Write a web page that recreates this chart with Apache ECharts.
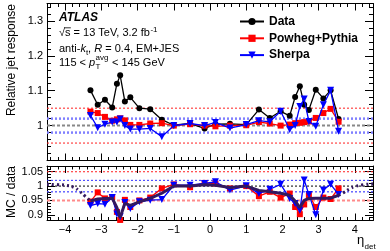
<!DOCTYPE html>
<html><head><meta charset="utf-8">
<script src="https://cdn.jsdelivr.net/npm/echarts@6/dist/echarts.min.js"></script>
<style>html,body{margin:0;padding:0;background:#fff}#c{width:390px;height:251px}</style>
</head><body><div id="c"></div>
<script>
// ---- data ----
const eta = [-3.3,-3.1,-2.9,-2.7,-2.57,-2.48,-2.35,-2.2,-1.95,-1.65,-1.33,-1.0,-0.55,-0.15,
             0.15,0.55,1.0,1.35,1.65,1.95,2.2,2.35,2.48,2.6,2.73,2.92,3.13,3.33,3.55];
const dataResp   = [1.101,1.060,1.074,1.052,1.120,1.144,1.069,1.081,1.050,1.047,1.017,1.001,1.006,0.992,
                    1.004,1.005,1.003,1.046,1.022,1.041,1.028,1.082,1.113,1.060,1.045,1.103,1.078,1.101,1.019];
const powhegResp = [1.040,1.036,1.025,1.014,1.018,1.021,1.015,1.002,1.002,1.006,1.007,1.000,1.004,1.000,
                    0.998,1.000,1.001,1.010,1.006,1.000,1.003,1.007,1.008,1.010,1.012,1.022,1.036,1.048,1.011];
const sherpaResp = [1.029,0.994,1.004,1.010,1.010,1.019,1.000,0.990,0.990,0.992,0.968,1.000,1.006,1.000,
                    1.009,0.993,1.003,1.014,1.011,1.041,0.989,1.000,1.055,1.076,1.012,0.998,1.060,1.101,0.984];
const powhegRatio = [0.946,0.978,0.957,0.962,0.910,0.882,0.952,0.927,0.950,0.960,0.992,1.006,0.996,1.011,
                     1.009,0.992,1.000,0.965,0.980,0.960,0.974,0.927,0.902,0.936,0.968,0.927,0.960,0.955,0.992];
const sherpaRatio = [0.932,0.939,0.937,0.960,0.903,0.893,0.943,0.922,0.945,0.951,0.953,1.003,1.003,1.009,
                     1.015,0.986,1.001,0.974,0.989,1.006,0.957,0.939,0.916,1.021,0.971,0.900,0.986,1.006,0.971];
const smoothRatio = [0.948,0.955,0.957,0.958,0.925,0.890,0.940,0.933,0.945,0.957,0.975,1.000,1.000,1.005,
                     1.003,0.995,1.000,0.985,0.980,0.975,0.968,0.948,0.925,0.950,0.957,0.958,0.958,0.958,0.968];
const extLeftEta    = [-4.5,-4.2,-3.95,-3.75,-3.6,-3.45,-3.3];
const extLeftRatio  = [1.006,1.005,1.002,0.995,0.982,0.965,0.948];
const extRightEta   = [3.55,3.7,3.85,4.0,4.2,4.5];
const extRightRatio = [0.968,0.978,0.990,0.998,1.004,1.008];
const xTickLabels = [-4,-3,-2,-1,0,1,2,3,4];
const upperTickLabels = [1,1.1,1.2,1.3];
const lowerTickLabels = [0.9,0.95,1,1.05];
const refLevels = [1.05,1.02,1,0.98,0.95];

// ---- layout / style ----
const FONT = '"Liberation Sans", Arial, Helvetica, sans-serif';
const XMIN=-4.5, XMAX=4.5;
const YR = [[0.9,1.35],[0.88,1.07]];
function steps(a,b,s){const o=[];const n=Math.round((b-a)/s);for(let i=0;i<=n;i++)o.push(+(a+i*s).toFixed(4));return o;}
const xMinor = steps(-4.4,4.4,0.2);
const yMinor = [steps(0.92,1.34,0.02), steps(0.89,1.06,0.01)];
const yMajor = [[1.0,1.1,1.2,1.3], [0.9,0.95,1.0,1.05]];
const yLabels = [upperTickLabels, lowerTickLabels];
const fmt = v => (v<0?'\u2212':'')+String(Math.abs(+v.toFixed(3)));

const grids = [{left:47,top:3.5,width:326,height:157},{left:47,top:166,width:326,height:54.5}];
const xAxes=[], yAxes=[];
for (let g=0; g<2; g++){
  for (const pos of ['bottom','top']){
    xAxes.push({gridIndex:g,type:'value',min:XMIN,max:XMAX,position:pos,
      axisLine:{show:true,onZero:false,lineStyle:{color:'#000',width:1}},
      axisTick:{show:true,inside:true,length:3.5,customValues:xMinor,lineStyle:{color:'#000',width:1}},
      axisLabel:{show:(g===1&&pos==='bottom'),customValues:xTickLabels,formatter:fmt,fontSize:11,color:'#000',fontFamily:FONT,margin:4},
      splitLine:{show:false}});
    xAxes.push({gridIndex:g,type:'value',min:XMIN,max:XMAX,position:pos,
      axisLine:{show:false,onZero:false},
      axisTick:{show:true,inside:true,length:7,customValues:xTickLabels,lineStyle:{color:'#000',width:1}},
      axisLabel:{show:false},splitLine:{show:false}});
  }
  for (const pos of ['left','right']){
    yAxes.push({gridIndex:g,type:'value',min:YR[g][0],max:YR[g][1],position:pos,
      axisLine:{show:true,onZero:false,lineStyle:{color:'#000',width:1}},
      axisTick:{show:true,inside:true,length:4,customValues:yMinor[g],lineStyle:{color:'#000',width:1}},
      axisLabel:{show:pos==='left',customValues:yLabels[g],formatter:fmt,fontSize:11,color:'#000',fontFamily:FONT,margin:4},
      splitLine:{show:false}});
    yAxes.push({gridIndex:g,type:'value',min:YR[g][0],max:YR[g][1],position:pos,
      axisLine:{show:false,onZero:false},
      axisTick:{show:true,inside:true,length:8,customValues:yMajor[g],lineStyle:{color:'#000',width:1}},
      axisLabel:{show:false},splitLine:{show:false}});
  }
}

const refStyles = [
  [{color:'#ff2020',width:1,type:[2,2]},{color:'#8080ff',width:2.5,type:[2,2]},{color:'#888888',width:2,type:[3,2]},{color:'#8080ff',width:2.5,type:[2,2]},{color:'#ff2020',width:1,type:[2,2]}],
  [{color:'#ff2020',width:1,type:[2,2]},{color:'#3030ff',width:1,type:[2,2]},{color:'#000000',width:1,type:[2,2]},{color:'#5050ff',width:1.3,type:[2,2]},{color:'#ff8a8a',width:2,type:[3,2]}]
];
const series=[];
for (let g=0; g<2; g++){
  refLevels.forEach((v,i)=>{
    series.push({type:'line',xAxisIndex:g*4,yAxisIndex:g*4,data:[[XMIN,v],[XMAX,v]],symbol:'none',silent:true,
      lineStyle:refStyles[g][i],z:1,animation:false});
  });
}
const pts = arr => eta.map((e,i)=>[e,arr[i]]);
series.push({name:'Data',type:'line',xAxisIndex:0,yAxisIndex:0,data:pts(dataResp),symbol:'circle',symbolSize:6,
  itemStyle:{color:'#000'},lineStyle:{color:'#000',width:1.3},z:3});
series.push({name:'Powheg+Pythia',type:'line',xAxisIndex:0,yAxisIndex:0,data:pts(powhegResp),symbol:'rect',symbolSize:6,
  itemStyle:{color:'#ff0000'},lineStyle:{color:'#ff0000',width:1.3},z:4});
series.push({name:'Sherpa',type:'line',xAxisIndex:0,yAxisIndex:0,data:pts(sherpaResp),symbol:'triangle',symbolRotate:180,symbolSize:7,
  itemStyle:{color:'#0000ff'},lineStyle:{color:'#0000ff',width:1.3},z:5});
series.push({type:'line',xAxisIndex:4,yAxisIndex:4,data:pts(powhegRatio),symbol:'rect',symbolSize:6,
  itemStyle:{color:'#ff0000'},lineStyle:{color:'#ff0000',width:1.3},z:4});
series.push({type:'line',xAxisIndex:4,yAxisIndex:4,data:pts(sherpaRatio),symbol:'triangle',symbolRotate:180,symbolSize:7,
  itemStyle:{color:'#0000ff'},lineStyle:{color:'#0000ff',width:1.3},z:5});
series.push({type:'line',xAxisIndex:4,yAxisIndex:4,data:pts(smoothRatio),symbol:'none',
  lineStyle:{color:'#33195f',width:3},z:6});
series.push({type:'line',xAxisIndex:4,yAxisIndex:4,data:extLeftEta.map((e,i)=>[e,extLeftRatio[i]]),symbol:'none',smooth:true,
  lineStyle:{color:'#33195f',width:3,type:[2,3]},z:6});
series.push({type:'line',xAxisIndex:4,yAxisIndex:4,data:extRightEta.map((e,i)=>[e,extRightRatio[i]]),symbol:'none',smooth:true,
  lineStyle:{color:'#33195f',width:3,type:[2,3]},z:6});

// ---- text annotations ----
const cv=document.createElement('canvas').getContext('2d');
function tw(t,f){cv.font=f;return cv.measureText(t).width;}
const F11='11px '+FONT, F11i='italic 11px '+FONT, F8='8px '+FONT;
const G=[];
function txt(x,y,t,font,extra){G.push(Object.assign({type:'text',x:x,y:y,silent:true,z:100,
  style:{text:t,font:font,fill:'#000',textAlign:'left',textVerticalAlign:'middle'}},extra||{}));}
const X0=59;
txt(X0,17.5,'ATLAS','italic bold 12px '+FONT);
// line 2
let y2=33.3, l2='\u221As = 13 TeV, 3.2 fb';
txt(X0,y2,l2,F11);
G.push({type:'line',silent:true,z:100,shape:{x1:X0+tw('\u221A',F11)-0.8,y1:y2-5.5,x2:X0+tw('\u221As',F11)+0.3,y2:y2-5.5},style:{stroke:'#000',lineWidth:0.8}});
txt(X0+tw(l2,F11)+0.5,y2-4,'-1',F8);
// line 3
let y3=49, x=X0;
txt(x,y3,'anti-',F11); x+=tw('anti-',F11);
txt(x,y3,'k',F11i); x+=tw('k',F11i);
txt(x,y3+3.5,'t',F8); x+=tw('t',F8);
txt(x,y3,', ',F11); x+=tw(', ',F11);
txt(x,y3,'R',F11i); x+=tw('R',F11i);
txt(x,y3,' = 0.4, EM+JES',F11);
// line 4
let y4=62.7; x=X0;
txt(x,y4,'115 < ',F11); x+=tw('115 < ',F11);
txt(x,y4,'p',F11i); x+=tw('p',F11i)+0.3;
txt(x,y4-4.5,'avg',F8); txt(x,y4+4,'T',F8);
x+=Math.max(tw('avg',F8),tw('T',F8))+0.5;
txt(x,y4,' < 145 GeV',F11);
// axis titles
G.push({type:'text',x:12,y:4,rotation:Math.PI/2,silent:true,style:{text:'Relative jet response',font:'12px '+FONT,fill:'#000',textAlign:'right',textVerticalAlign:'middle'}});
G.push({type:'text',x:12,y:166,rotation:Math.PI/2,silent:true,style:{text:'MC / data',font:'12px '+FONT,fill:'#000',textAlign:'right',textVerticalAlign:'middle'}});
txt(357,240.5,'\u03B7','13px '+FONT);
txt(364.5,246.5,'det','8px '+FONT);

const chart = echarts.init(document.getElementById('c'),null,{renderer:'canvas'});
chart.setOption({
  animation:false,
  backgroundColor:'#fff',
  grid:grids, xAxis:xAxes, yAxis:yAxes,
  legend:{data:['Data','Powheg+Pythia','Sherpa'],orient:'vertical',left:239,top:15.5,itemWidth:24,itemHeight:9,itemGap:4.8,
    textStyle:{fontSize:12,fontWeight:'bold',color:'#000',fontFamily:FONT},selectedMode:false,padding:0},
  series:series,
  graphic:G
});
</script></body></html>
